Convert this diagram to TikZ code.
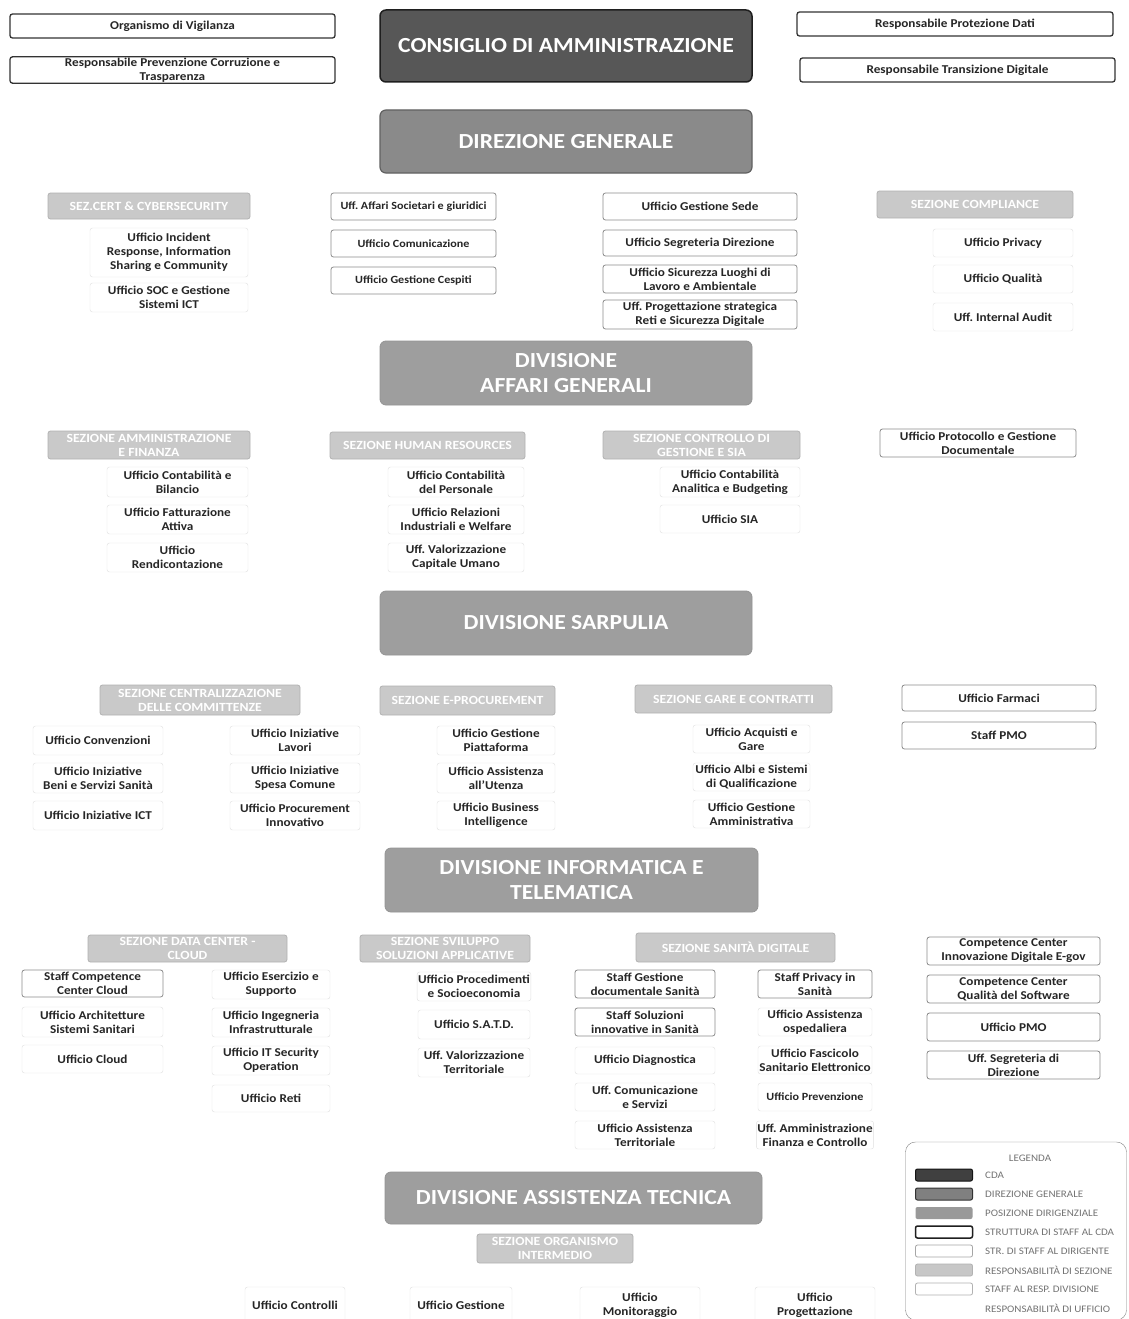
\documentclass[tikz,border=0pt]{standalone}
\usepackage{fontspec}
\setmainfont{Carlito}[FakeStretch=1.1]
\frenchspacing
\begin{document}
\begin{tikzpicture}[x=1pt,y=-1pt,
  box/.style={rectangle, rounded corners=2.5pt, align=center, inner sep=1pt,
    font=\fontsize{12}{14}\selectfont\bfseries, text=black!85},
  small/.style={font=\fontsize{11}{13}\selectfont\bfseries},
  uff/.style={box, draw=black!12, fill=white},
  stf/.style={box, draw=black!45, line width=0.8pt, fill=white},
  stcda/.style={box, draw=black!80, line width=1.3pt, fill=white},
  sez/.style={box, fill=black!21, draw=black!30, line width=0.8pt, text=white,
    font=\fontsize{12.5}{14}\selectfont\bfseries},
  head/.style={rectangle, rounded corners=6pt, align=center, text=white,
    font=\fontsize{21.5}{25}\selectfont\bfseries},
  cdah/.style={head, fill=black!66, draw=black!88, line width=1.5pt},
  dgh/.style={head, fill=black!46, draw=black!62, line width=1.2pt},
  divh/.style={head, fill=black!38, draw=black!42, line width=0.8pt},
  legtxt/.style={anchor=west, text=black!55, inner sep=0pt, font=\fontsize{10}{11}\selectfont},
  sw/.style={rectangle, rounded corners=2pt, minimum width=57pt, minimum height=12pt, inner sep=0pt}
]
\newcommand\bx[7]{\node[#1, minimum width={#5pt-#3pt}, minimum height={#6pt-#4pt}] (#2) at ({(#3+#5)/2},{(#4+#6)/2}) {#7};}
\useasboundingbox (0,0) rectangle (1128,1319);
\fill[white] (0,0) rectangle (1128,1319);

% ---------- top level ----------
\bx{cdah}{cda}{380}{10}{752}{82}{CONSIGLIO DI AMMINISTRAZIONE}
\bx{stcda}{odv}{10}{14}{335}{38}{Organismo di Vigilanza}
\bx{stcda}{rpct}{10}{58}{335}{82}{Responsabile Prevenzione Corruzione e\\Trasparenza}
\bx{stcda}{rpd}{797}{12}{1113}{36}{Responsabile Protezione Dati}
\bx{stcda}{rtd}{800}{58}{1115}{82}{Responsabile Transizione Digitale}

\bx{dgh}{dg}{380}{110}{752}{173}{DIREZIONE GENERALE}

% ---------- row 1 ----------
\bx{sez}{scert}{48}{193}{250}{219}{SEZ.CERT \& CYBERSECURITY}
\bx{uff}{u1}{90}{228}{248}{277}{Ufficio Incident\\Response, Information\\Sharing e Community}
\bx{uff}{u2}{90}{283}{248}{312}{Ufficio SOC e Gestione\\Sistemi ICT}
\bx{stf,small}{u3}{331}{193}{496}{220}{Uff. Affari Societari e giuridici}
\bx{stf,small}{u4}{331}{230}{496}{257}{Ufficio Comunicazione}
\bx{stf,small}{u5}{331}{267}{496}{294}{Ufficio Gestione Cespiti}
\bx{stf}{u6}{603}{193}{797}{220}{Ufficio Gestione Sede}
\bx{stf}{u7}{603}{230}{797}{256}{Ufficio Segreteria Direzione}
\bx{stf}{u8}{603}{265}{797}{293}{Ufficio Sicurezza Luoghi di\\Lavoro e Ambientale}
\bx{stf}{u9}{603}{300}{797}{329}{Uff. Progettazione strategica\\Reti e Sicurezza Digitale}
\bx{sez}{scomp}{877}{191}{1073}{218}{SEZIONE COMPLIANCE}
\bx{uff}{u10}{933}{229}{1073}{257}{Ufficio Privacy}
\bx{uff}{u11}{933}{265}{1073}{293}{Ufficio Qualità}
\bx{uff}{u12}{933}{303}{1073}{331}{Uff. Internal Audit}

\bx{divh}{dag}{380}{341}{752}{405}{DIVISIONE\\AFFARI GENERALI}

% ---------- row 2 ----------
\bx{sez}{safi}{48}{431}{250}{459}{SEZIONE AMMINISTRAZIONE\\E FINANZA}
\bx{uff}{v1}{107}{467}{248}{497}{Ufficio Contabilità e\\Bilancio}
\bx{uff}{v2}{107}{505}{248}{534}{Ufficio Fatturazione\\Attiva}
\bx{uff}{v3}{107}{543}{248}{572}{Ufficio\\Rendicontazione}
\bx{sez}{shr}{330}{432}{525}{459}{SEZIONE HUMAN RESOURCES}
\bx{uff}{v4}{388}{467}{524}{497}{Ufficio Contabilità\\del Personale}
\bx{uff}{v5}{388}{505}{524}{534}{Ufficio Relazioni\\Industriali e Welfare}
\bx{uff}{v6}{388}{543}{524}{572}{Uff. Valorizzazione\\Capitale Umano}
\bx{sez}{scg}{603}{431}{800}{459}{SEZIONE CONTROLLO DI\\GESTIONE E SIA}
\bx{uff}{v7}{660}{467}{800}{497}{Ufficio Contabilità\\Analitica e Budgeting}
\bx{uff}{v8}{660}{505}{800}{533}{Ufficio SIA}
\bx{stf}{v9}{880}{429}{1076}{457}{Ufficio Protocollo e Gestione\\Documentale}

\bx{divh}{dsar}{380}{591}{752}{655}{DIVISIONE SARPULIA}

% ---------- row 3 ----------
\bx{sez}{scc}{100}{685}{300}{715}{SEZIONE CENTRALIZZAZIONE\\DELLE COMMITTENZE}
\bx{uff}{w1}{33}{726}{163}{755}{Ufficio Convenzioni}
\bx{uff}{w2}{33}{763}{163}{793}{Ufficio Iniziative\\Beni e Servizi Sanità}
\bx{uff}{w3}{33}{801}{163}{830}{Ufficio Iniziative ICT}
\bx{uff}{w4}{230}{726}{360}{755}{Ufficio Iniziative\\Lavori}
\bx{uff}{w5}{230}{763}{360}{793}{Ufficio Iniziative\\Spesa Comune}
\bx{uff}{w6}{230}{801}{360}{830}{Ufficio Procurement\\Innovativo}
\bx{sez}{sep}{380}{686}{555}{715}{SEZIONE E-PROCUREMENT}
\bx{uff}{w7}{437}{726}{555}{755}{Ufficio Gestione\\Piattaforma}
\bx{uff}{w8}{437}{763}{555}{793}{Ufficio Assistenza\\all'Utenza}
\bx{uff}{w9}{437}{801}{555}{830}{Ufficio Business\\Intelligence}
\bx{sez}{sgc}{635}{685}{832}{713}{SEZIONE GARE E CONTRATTI}
\bx{uff}{w10}{693}{725}{810}{753}{Ufficio Acquisti e\\Gare}
\bx{uff}{w11}{693}{763}{810}{791}{Ufficio Albi e Sistemi\\di Qualificazione}
\bx{uff}{w12}{693}{800}{810}{828}{Ufficio Gestione\\Amministrativa}
\bx{stf}{w13}{902}{685}{1096}{711}{Ufficio Farmaci}
\bx{stf}{w14}{902}{722}{1096}{749}{Staff PMO}

\bx{divh}{dit}{385}{848}{758}{912}{DIVISIONE INFORMATICA E\\TELEMATICA}

% ---------- row 4 ----------
\bx{sez}{sdc}{88}{935}{287}{962}{SEZIONE DATA CENTER -\\CLOUD}
\bx{stf}{x1}{22}{970}{163}{997}{Staff Competence\\Center Cloud}
\bx{uff}{x2}{22}{1007}{163}{1037}{Ufficio Architetture\\Sistemi Sanitari}
\bx{uff}{x3}{22}{1045}{163}{1073}{Ufficio Cloud}
\bx{uff}{x4}{212}{970}{330}{999}{Ufficio Esercizio e\\Supporto}
\bx{uff}{x5}{212}{1008}{330}{1037}{Ufficio Ingegneria\\Infrastrutturale}
\bx{uff}{x6}{212}{1046}{330}{1075}{Ufficio IT Security\\Operation}
\bx{uff}{x7}{212}{1085}{330}{1112}{Ufficio Reti}
\bx{sez}{ssa}{360}{935}{530}{962}{SEZIONE SVILUPPO\\SOLUZIONI APPLICATIVE}
\bx{uff}{x8}{418}{972}{530}{1001}{Ufficio Procedimenti\\e Socioeconomia}
\bx{uff}{x9}{418}{1010}{530}{1039}{Ufficio S.A.T.D.}
\bx{uff}{x10}{418}{1048}{530}{1077}{Uff. Valorizzazione\\Territoriale}
\bx{sez}{ssd}{636}{933}{835}{962}{SEZIONE SANITÀ DIGITALE}
\bx{stf}{x11}{575}{970}{715}{998}{Staff Gestione\\documentale Sanità}
\bx{stf}{x12}{575}{1008}{715}{1036}{Staff Soluzioni\\innovative in Sanità}
\bx{uff}{x13}{575}{1047}{715}{1074}{Ufficio Diagnostica}
\bx{uff}{x14}{575}{1083}{715}{1111}{Uff. Comunicazione\\e Servizi}
\bx{uff}{x15}{575}{1121}{715}{1149}{Ufficio Assistenza\\Territoriale}
\bx{stf}{x16}{758}{970}{872}{998}{Staff Privacy in\\Sanità}
\bx{uff}{x17}{758}{1008}{872}{1036}{Ufficio Assistenza\\ospedaliera}
\bx{uff}{x18}{758}{1046}{872}{1074}{Ufficio Fascicolo\\Sanitario Elettronico}
\bx{uff,small}{x19}{758}{1083}{872}{1111}{Ufficio Prevenzione}
\bx{uff}{x20}{758}{1121}{872}{1149}{Uff. Amministrazione\\Finanza e Controllo}
\bx{stf}{x21}{927}{937}{1100}{965}{Competence Center\\Innovazione Digitale E-gov}
\bx{stf}{x22}{927}{975}{1100}{1003}{Competence Center\\Qualità del Software}
\bx{stf}{x23}{927}{1013}{1100}{1041}{Ufficio PMO}
\bx{stf}{x24}{927}{1051}{1100}{1079}{Uff. Segreteria di\\Direzione}

\bx{divh}{dat}{385}{1172}{762}{1224}{DIVISIONE ASSISTENZA TECNICA}

% ---------- row 5 ----------
\bx{sez}{soi}{477}{1234}{633}{1263}{SEZIONE ORGANISMO\\INTERMEDIO}
\bx{uff}{y1}{245}{1287}{345}{1323}{Ufficio Controlli}
\bx{uff}{y2}{410}{1287}{512}{1323}{Ufficio Gestione}
\bx{uff}{y3}{580}{1287}{700}{1323}{Ufficio\\Monitoraggio}
\bx{uff}{y4}{755}{1287}{875}{1323}{Ufficio\\Progettazione}

% ---------- legend ----------
\node[draw=black!50, rounded corners=10pt, minimum width=221pt, minimum height=178pt, inner sep=0pt] (leg) at (1016,1231) {};
\node[legtxt, anchor=center] (lt0) at (1030,1158) {LEGENDA};
\node[sw, fill=black!75, draw=black!92, line width=1pt] (s1) at (944,1175) {};
\node[sw, fill=black!50, draw=black!80, line width=1pt] (s2) at (944,1194) {};
\node[sw, fill=black!40] (s3) at (944,1213) {};
\node[sw, fill=white, draw=black!88, line width=1.5pt] (s4) at (944,1232) {};
\node[sw, fill=white, draw=black!35, line width=0.8pt] (s5) at (944,1251) {};
\node[sw, fill=black!22, draw=black!30, line width=0.8pt] (s6) at (944,1270) {};
\node[sw, fill=white, draw=black!30, line width=0.8pt] (s7) at (944,1289) {};
\node[legtxt] (l1) at (985,1175) {CDA};
\node[legtxt] (l2) at (985,1194) {DIREZIONE GENERALE};
\node[legtxt] (l3) at (985,1213) {POSIZIONE DIRIGENZIALE};
\node[legtxt] (l4) at (985,1232) {STRUTTURA DI STAFF AL CDA};
\node[legtxt] (l5) at (985,1251) {STR. DI STAFF AL DIRIGENTE};
\node[legtxt] (l6) at (985,1270) {RESPONSABILITÀ DI SEZIONE};
\node[legtxt] (l7) at (985,1289) {STAFF AL RESP. DIVISIONE};
\node[legtxt] (l8) at (985,1308) {RESPONSABILITÀ DI UFFICIO};
\end{tikzpicture}
\end{document}
